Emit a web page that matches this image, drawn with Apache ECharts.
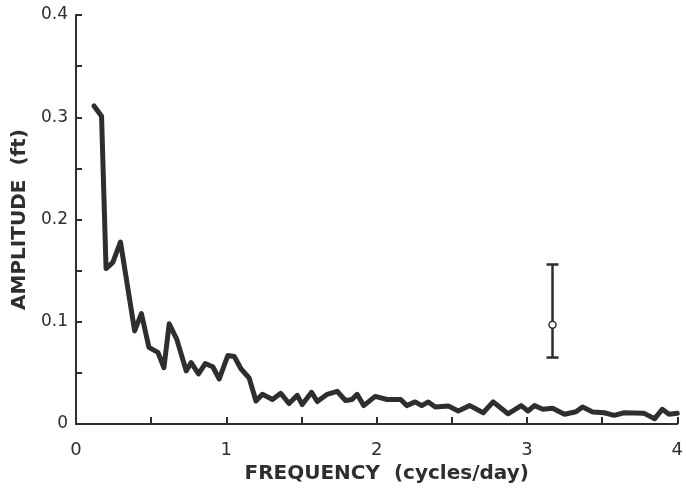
<!DOCTYPE html>
<html>
<head>
<meta charset="utf-8" />
<title>Amplitude spectrum</title>
<style type="text/css">
body{ margin:0; background:#fff; }
#chart{ width:686px; height:495px; }
</style>
</head>
<body>
<div id="chart"></div>
<script src="https://cdn.jsdelivr.net/npm/echarts@6/dist/echarts.min.js"></script>
<script type="text/javascript">
// frequency (cycles/day) and amplitude (ft)
var freq = [0.12, 0.17, 0.20, 0.245, 0.296, 0.39, 0.435, 0.485, 0.545, 0.585, 0.62, 0.67, 0.733, 0.766, 0.815, 0.86, 0.91, 0.953, 1.01, 1.053, 1.097, 1.152, 1.197,
  1.24, 1.307, 1.362, 1.417, 1.472, 1.505, 1.567, 1.605, 1.671, 1.737, 1.793, 1.836, 1.87, 1.914, 1.99,
  2.07, 2.16, 2.20, 2.256, 2.30, 2.344, 2.39, 2.477, 2.543, 2.62, 2.709, 2.775, 2.874, 2.962,
  3.007, 3.05, 3.106, 3.17, 3.25, 3.326, 3.37, 3.437, 3.514, 3.58, 3.647, 3.78, 3.85, 3.90, 3.945, 4.0];
var amp = [0.311, 0.301, 0.152, 0.158, 0.178, 0.091, 0.108, 0.075, 0.070, 0.055, 0.098, 0.083, 0.052, 0.060, 0.049, 0.059, 0.056, 0.044, 0.067, 0.066, 0.054, 0.045, 0.0225,
  0.029, 0.024, 0.030, 0.020, 0.028, 0.019, 0.031, 0.022, 0.029, 0.032, 0.023, 0.024, 0.029, 0.018, 0.027,
  0.024, 0.024, 0.018, 0.0216, 0.018, 0.0216, 0.0167, 0.0176, 0.0127, 0.018, 0.011, 0.0216, 0.010, 0.018,
  0.0127, 0.018, 0.0144, 0.0154, 0.0095, 0.012, 0.0167, 0.0118, 0.011, 0.0085, 0.011, 0.0104, 0.0052, 0.0144, 0.0095, 0.0105];

// error bar: [frequency, low, centre, high]
var errBar = [[3.17, 0.065, 0.097, 0.156]];

var xTicks = [0, 1, 2, 3, 4];
var yTicks = [0, 0.1, 0.2, 0.3, 0.4];

var ink = '#2e2e2e';
var lineData = freq.map(function (f, i) { return [f, amp[i]]; });

var chart = echarts.init(document.getElementById('chart'));
var option = {
  animation: false,
  grid: { left: 76, right: 6, top: 15, bottom: 71 },
  xAxis: {
    type: 'value', min: xTicks[0], max: xTicks[xTicks.length - 1], interval: 1,
    name: 'FREQUENCY  (cycles/day)', nameLocation: 'middle', nameGap: 38,
    nameTextStyle: { color: ink, fontSize: 20, fontWeight: 'bold', fontFamily: 'DejaVu Sans', padding: [0, 0, 0, 20] },
    axisLine: { show: true, lineStyle: { color: ink, width: 2 } },
    axisTick: { show: true, inside: true, length: 7, lineStyle: { color: ink, width: 2 } },
    minorTick: { show: true, splitNumber: 2, length: 7, lineStyle: { color: ink, width: 2 } },
    axisLabel: { color: ink, fontSize: 18, fontFamily: 'DejaVu Sans', margin: 17 },
    splitLine: { show: false }
  },
  yAxis: {
    type: 'value', min: yTicks[0], max: yTicks[yTicks.length - 1], interval: 0.1,
    name: 'AMPLITUDE  (ft)', nameLocation: 'middle', nameGap: 46, nameRotate: 90,
    nameTextStyle: { color: ink, fontSize: 20, fontWeight: 'bold', fontFamily: 'DejaVu Sans' },
    axisLine: { show: true, lineStyle: { color: ink, width: 2 } },
    axisTick: { show: true, inside: true, length: 6, lineStyle: { color: ink, width: 2 } },
    minorTick: { show: true, splitNumber: 2, length: 6, lineStyle: { color: ink, width: 2 } },
    axisLabel: {
      color: ink, fontSize: 17, fontFamily: 'DejaVu Sans', margin: 8,
      formatter: function (v) { return v === 0 ? '0' : v.toFixed(1); }
    },
    splitLine: { show: false }
  },
  series: [
    {
      type: 'line', data: lineData, symbol: 'none',
      lineStyle: { color: ink, width: 5, join: 'round', cap: 'round' }
    },
    {
      type: 'custom', data: errBar,
      renderItem: function (params, api) {
        var top = api.coord([api.value(0), api.value(3)]);
        var bot = api.coord([api.value(0), api.value(1)]);
        var mid = api.coord([api.value(0), api.value(2)]);
        var s = { stroke: ink, lineWidth: 2.5 };
        return {
          type: 'group',
          children: [
            { type: 'line', shape: { x1: top[0], y1: top[1], x2: bot[0], y2: bot[1] }, style: s },
            { type: 'line', shape: { x1: top[0] - 6, y1: top[1], x2: top[0] + 6, y2: top[1] }, style: s },
            { type: 'line', shape: { x1: bot[0] - 6, y1: bot[1], x2: bot[0] + 6, y2: bot[1] }, style: s },
            { type: 'circle', shape: { cx: mid[0], cy: mid[1], r: 3.5 }, style: { fill: '#fff', stroke: ink, lineWidth: 1.5 } }
          ]
        };
      }
    }
  ]
};
chart.setOption(option);
</script>
</body>
</html>
